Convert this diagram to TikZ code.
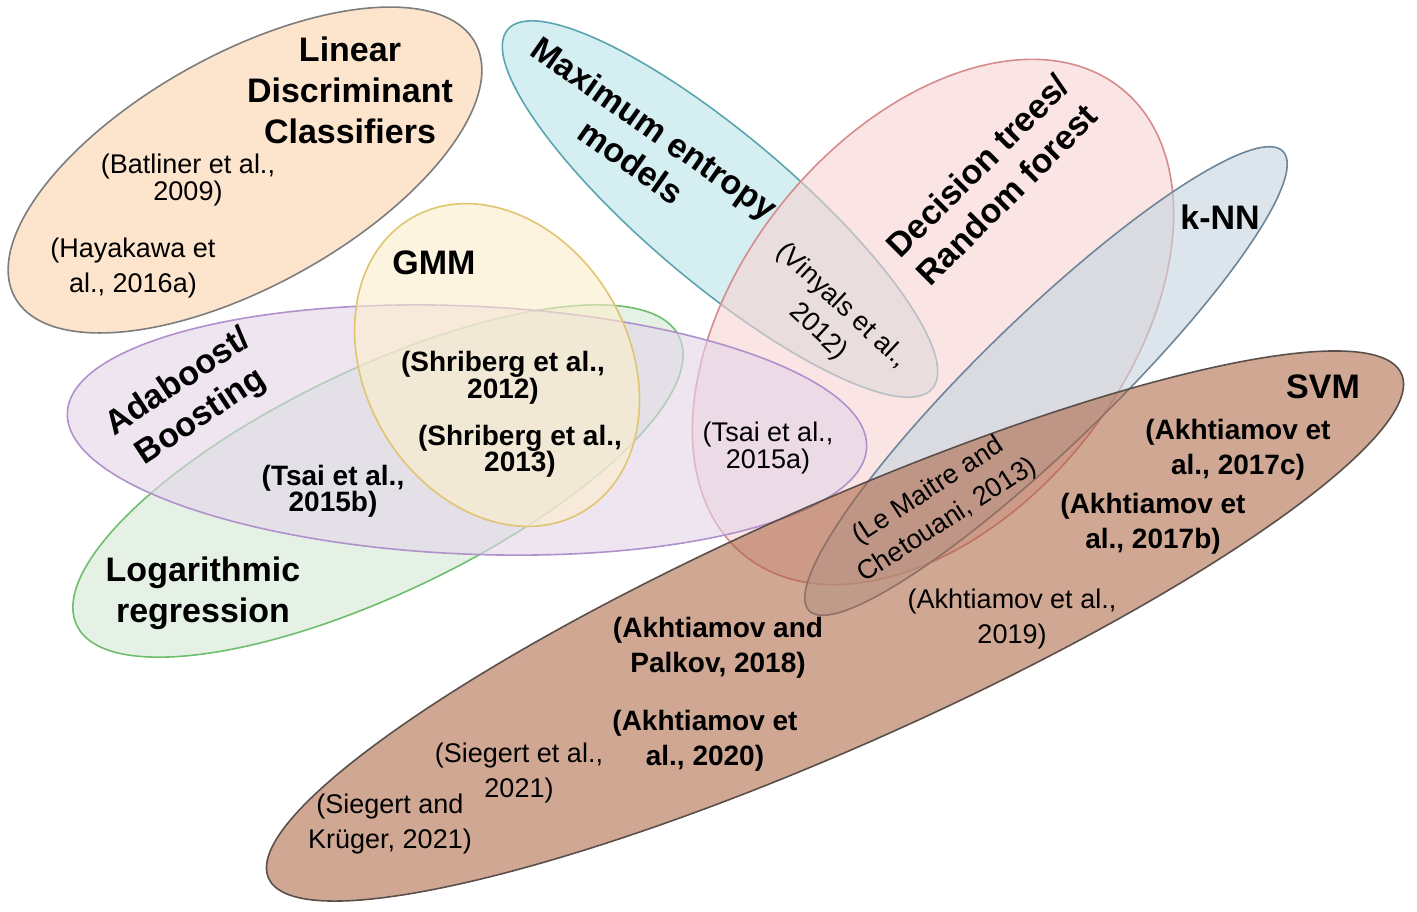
\documentclass[tikz,border=0pt]{standalone}
\usepackage{fontspec}
\setmainfont{Liberation Sans}
\usetikzlibrary{shapes.geometric}
\definecolor{ldcF}{RGB}{250,210,173}\definecolor{ldcD}{RGB}{125,125,125}
\definecolor{meF}{RGB}{185,228,233}\definecolor{meD}{RGB}{90,165,176}
\definecolor{dtF}{RGB}{247,210,210}\definecolor{dtD}{RGB}{214,140,140}
\definecolor{knnF}{RGB}{198,212,223}\definecolor{knnD}{RGB}{110,134,153}
\definecolor{logF}{RGB}{213,233,213}\definecolor{logD}{RGB}{110,190,110}
\definecolor{adaF}{RGB}{227,213,233}\definecolor{adaD}{RGB}{176,145,204}
\definecolor{gmmF}{RGB}{253,238,203}\definecolor{gmmD}{RGB}{224,197,112}
\definecolor{svmF}{RGB}{169,95,60}\definecolor{svmD}{RGB}{90,80,75}
\begin{document}
\begin{tikzpicture}[x=0.5pt,y=-0.5pt,
  set/.style={ellipse, draw, line width=0.8pt, fill opacity=0.6, inner sep=0pt, outer sep=0pt},
  ttl/.style={font=\fontsize{17}{20.5}\selectfont\bfseries, align=center, inner sep=0pt},
  cit/.style={font=\fontsize{13.5}{17.5}\selectfont, align=center, inner sep=0pt},
  citt/.style={font=\fontsize{13.5}{13.5}\selectfont, align=center, inner sep=0pt},
  citb/.style={font=\fontsize{14}{17.5}\selectfont\bfseries, align=center, inner sep=0pt},
  citbt/.style={font=\fontsize{14}{13.25}\selectfont\bfseries, align=center, inner sep=0pt}]
\useasboundingbox[fill=white] (0,0) rectangle (1417,911);
% sets
\node[set, draw=ldcD, fill=ldcF, minimum width=263pt, minimum height=116pt, rotate=29] (ldc) at (245,170) {};
\node[set, draw=meD, fill=meF, minimum width=278pt, minimum height=74pt, rotate=-40.2] (me) at (720,209) {};
\node[set, draw=dtD, fill=dtF, minimum width=300pt, minimum height=192pt, rotate=51] (dt) at (933,322) {};
\node[set, draw=knnD, fill=knnF, minimum width=330pt, minimum height=64.5pt, rotate=44.1] (knn) at (1046,381) {};
\node[set, draw=logD, fill=logF, minimum width=334pt, minimum height=112pt, rotate=25.6] (log) at (378,481) {};
\node[set, draw=adaD, fill=adaF, minimum width=400pt, minimum height=124pt, rotate=-2.5] (ada) at (467,430) {};
\node[set, draw=gmmD, fill=gmmF, minimum width=132pt, minimum height=170pt, rotate=30] (gmm) at (497,365) {};
\node[set, draw=svmD, fill=svmF, fill opacity=0.55, minimum width=620pt, minimum height=120pt, rotate=24] (svm) at (835,626) {};
% titles
\node[ttl] (ldcT) at (350,90) {Linear\\Discriminant\\Classifiers};
\node[ttl] (gmmT) at (434,263) {GMM};
\node[ttl, rotate=-35] (meT) at (643,145) {Maximum entropy\\models};
\node[ttl, rotate=45] (dtT) at (992,180) {Decision trees/\\Random forest};
\node[ttl] (knnT) at (1220,217) {k-NN};
\node[ttl] (svmT) at (1323,387) {SVM};
\node[ttl, rotate=33.5] (adaT) at (190,400) {Adaboost/\\Boosting};
\node[ttl] (logT) at (203,593) {Logarithmic\\regression};
% citations
\node[citt] (bat) at (188,180) {(Batliner et al.,\\2009)};
\node[cit] (hay) at (133,268) {(Hayakawa et\\al., 2016a)};
\node[citbt] (sh12) at (503,378) {(Shriberg et al.,\\2012)};
\node[citbt] (sh13) at (520,451) {(Shriberg et al.,\\2013)};
\node[citbt] (tsb) at (333,491) {(Tsai et al.,\\2015b)};
\node[citt] (tsa) at (768,448) {(Tsai et al.,\\2015a)};
\node[cit, rotate=-43] (vin) at (830,319) {(Vinyals et al.,\\2012)};
\node[cit, rotate=33] (lem) at (938,506) {(Le Maitre and\\Chetouani, 2013)};
\node[citb] (a17c) at (1238,450) {(Akhtiamov et\\al., 2017c)};
\node[citb] (a17b) at (1153,524) {(Akhtiamov et\\al., 2017b)};
\node[cit] (a19) at (1012,619) {(Akhtiamov et al.,\\2019)};
\node[citb] (a18) at (718,648) {(Akhtiamov and\\Palkov, 2018)};
\node[citb] (a20) at (705,741) {(Akhtiamov et\\al., 2020)};
\node[cit] (sie) at (519,773) {(Siegert et al.,\\2021)};
\node[cit] (sk) at (390,824) {(Siegert and\\Krüger, 2021)};
\end{tikzpicture}
\end{document}
